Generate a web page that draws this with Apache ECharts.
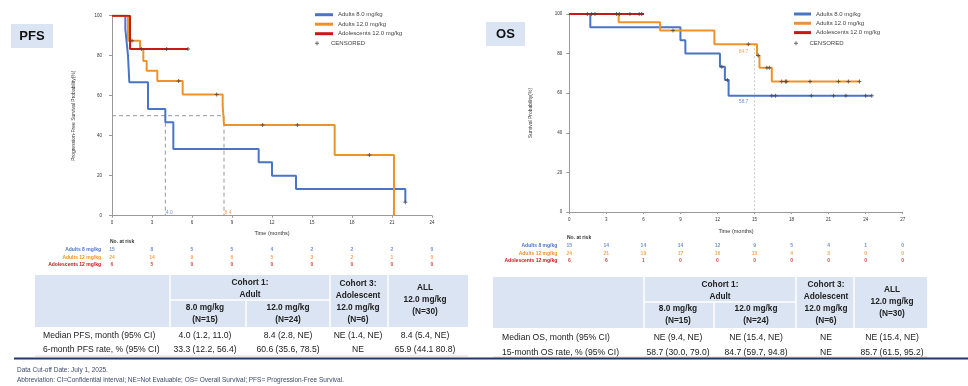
<!DOCTYPE html>
<html><head><meta charset="utf-8">
<script src="https://cdn.jsdelivr.net/npm/echarts@6/dist/echarts.min.js"></script>
<style>html,body{margin:0;padding:0;background:#fff}#c{width:968px;height:386px}</style>
</head><body><div id="c"></div>
<script>
// ---------- DATA ----------
const seriesNames = ['Adults 8.0 mg/kg', 'Adults 12.0 mg/kg', 'Adolescents 12.0 mg/kg'];
const riskRowNames = ['Adults 8 mg/kg', 'Adults 12 mg/kg', 'Adolescents 12 mg/kg'];

// PFS Kaplan-Meier curves [month, %]
const pfsAdult8 = [[0,100],[1.0,93.3],[1.1,86.7],[1.2,80],[1.3,66.7],[2.7,53.3],[4.0,46.7],[4.6,33.3],[11.0,26.7],[12.0,20.0],[13.8,13.3],[22.0,6.7]];
const pfsAdult12 = [[0,100],[1.2,87.5],[2.1,83.3],[2.35,77.4],[2.6,72.5],[3.4,67.3],[5.3,60.6],[8.3,55.1],[8.4,45.4],[16.7,30.3],[21.15,0]];
const pfsAdol12 = [[0,100],[1.35,83.3],[5.7,83.3]];
const pfsCens8 = [[22.0,6.7]];
const pfsCens12 = [[1.5,87.5],[2.2,83.3],[5.0,67.3],[7.85,60.6],[11.3,45.4],[13.9,45.4],[19.3,30.3]];
const pfsCensAdol = [[4.1,83.3],[5.7,83.3]];
const pfsMedians = [4.0, 8.4];

// OS Kaplan-Meier curves
const osAdult8 = [[0,100],[1.7,93.3],[9.0,86.7],[9.4,80],[12.2,73.3],[12.6,66.7],[12.9,58.7],[24.5,58.7]];
const osAdult12 = [[0,100],[4.0,95.8],[7.35,91.7],[11.75,84.7],[15.2,79.0],[15.4,72.9],[16.4,65.9],[23.5,65.9]];
const osAdol12 = [[0,100],[6.05,100]];
const osCens8 = [[12.35,73.3],[12.8,66.7],[16.4,58.7],[16.7,58.7],[19.6,58.7],[21.4,58.7],[22.4,58.7],[24.0,58.7],[24.5,58.7]];
const osCens12 = [[8.4,91.7],[14.5,84.7],[15.3,79.0],[16.0,72.9],[16.2,72.9],[17.2,65.9],[17.5,65.9],[17.6,65.9],[19.5,65.9],[21.8,65.9],[22.6,65.9],[23.5,65.9]];
const osCensAdol = [[1.46,100],[1.81,100],[2.08,100],[3.83,100],[4.05,100],[4.91,100],[5.66,100],[5.86,100]];
const osLandmark = 15;
const osLandmarkRates = [84.7, 58.7];

// Numbers at risk
const pfsTicks = [0,3,6,9,12,15,18,21,24];
const pfsRisk8 = [15,8,5,5,4,2,2,2,0];
const pfsRisk12 = [24,14,9,6,5,3,2,1,0];
const pfsRiskAdol = [6,5,0,0,0,0,0,0,0];
const osTicks = [0,3,6,9,12,15,18,21,24,27];
const osRisk8 = [15,14,14,14,12,9,5,4,1,0];
const osRisk12 = [24,21,19,17,16,15,4,3,0,0];
const osRiskAdol = [6,6,1,0,0,0,0,0,0,0];

// Tables
const headCohort1 = 'Cohort 1:\nAdult';
const headDose8 = '8.0 mg/kg\n(N=15)';
const headDose12 = '12.0 mg/kg\n(N=24)';
const headCohort3 = 'Cohort 3:\nAdolescent\n12.0 mg/kg\n(N=6)';
const headAll = 'ALL\n12.0 mg/kg\n(N=30)';
const pfsRows = [
  ['Median PFS, month (95% CI)', '4.0 (1.2, 11.0)', '8.4 (2.8, NE)', 'NE (1.4, NE)', '8.4 (5.4, NE)'],
  ['6-month PFS rate, % (95% CI)', '33.3 (12.2, 56.4)', '60.6 (35.6, 78.5)', 'NE', '65.9 (44.1 80.8)']
];
const osRows = [
  ['Median OS, month (95% CI)', 'NE (9.4, NE)', 'NE (15.4, NE)', 'NE', 'NE (15.4, NE)'],
  ['15-month OS rate, % (95% CI)', '58.7 (30.0, 79.0)', '84.7 (59.7, 94.8)', 'NE', '85.7 (61.5, 95.2)']
];
const footnotes = ['Data Cut-off Date: July 1, 2025.', 'Abbreviation: CI=Confidential interval; NE=Not Evaluable; OS= Overall Survival; PFS= Progression-Free Survival.'];

// ---------- STYLE ----------
const C = ['#4A74C6', '#F0922B', '#C81818'];
const CENS = '#444';
const AX = '#999';
const FONT = '"Liberation Sans", Arial, sans-serif';
const HEAD = '#DAE4F2';
const plus = 'path://M3,0H5V3H8V5H5V8H3V5H0V3H3Z';

const chart = echarts.init(document.getElementById('c'), null, {renderer: 'canvas'});

function xAx(grid, max, show, gap) {
  return {
    type: 'value', gridIndex: grid, min: 0, max: max, interval: 3, show: show,
    axisLine: {show: true, lineStyle: {color: AX, width: 1}},
    axisTick: {show: true, length: 2, lineStyle: {color: AX}},
    axisLabel: {fontSize: 4.5, color: '#333', margin: 5, fontFamily: FONT},
    splitLine: {show: false},
    name: show ? 'Time (months)' : '', nameLocation: 'middle', nameGap: gap,
    nameTextStyle: {fontSize: 5.5, color: '#333', fontFamily: FONT}
  };
}
function yAx(grid, name, gap, offset, margin) {
  return {
    type: 'value', gridIndex: grid, min: 0, max: 100, interval: 20, offset: offset,
    axisLine: {show: true, lineStyle: {color: AX, width: 1}},
    axisTick: {show: true, length: 3, lineStyle: {color: AX}},
    axisLabel: {fontSize: 4.5, color: '#333', margin: margin, fontFamily: FONT},
    splitLine: {show: false},
    name: name, nameLocation: 'middle', nameGap: gap, nameRotate: 90,
    nameTextStyle: {fontSize: 5, color: '#333', fontFamily: FONT}
  };
}
function riskX(grid, max) {
  return {type: 'value', gridIndex: grid, min: 0, max: max, interval: 3, show: false};
}
function riskY(grid, margin) {
  return {
    type: 'value', gridIndex: grid, min: 0, max: 2, interval: 1, inverse: true,
    axisLine: {show: false}, axisTick: {show: false}, splitLine: {show: false},
    axisLabel: {
      margin: margin, fontFamily: FONT,
      formatter: v => '{r' + v + '|' + riskRowNames[v] + '}',
      rich: {
        r0: {color: C[0], fontSize: 5, fontWeight: 'bold', fontFamily: FONT},
        r1: {color: C[1], fontSize: 5, fontWeight: 'bold', fontFamily: FONT},
        r2: {color: C[2], fontSize: 5, fontWeight: 'bold', fontFamily: FONT}
      }
    }
  };
}
function km(name, data, ax, color) {
  return {name: name, type: 'line', step: 'end', data: data, xAxisIndex: ax, yAxisIndex: ax,
    symbol: 'none', lineStyle: {color: color, width: 2}, itemStyle: {color: color}, silent: true, z: 3};
}
function cens(data, ax) {
  return {name: 'CENSORED', type: 'scatter', data: data, xAxisIndex: ax, yAxisIndex: ax,
    symbol: plus, symbolSize: 4, itemStyle: {color: CENS}, silent: true, z: 5};
}
function riskSeries(ticks, vals, row, ax, color) {
  return {type: 'scatter', xAxisIndex: ax, yAxisIndex: ax, symbolSize: 0, silent: true,
    data: ticks.map((t, i) => [t, row, vals[i]]),
    label: {show: true, position: 'inside', formatter: p => p.value[2], color: color, fontSize: 5, fontWeight: 'bold', fontFamily: FONT}};
}
function refLine(data, ax, color, type) {
  return {type: 'line', data: data, xAxisIndex: ax, yAxisIndex: ax, symbol: 'none', silent: true,
    lineStyle: {color: color, width: 1, type: type}, z: 2};
}
function noteLabel(data, ax, color, off) {
  return {type: 'scatter', data: data, xAxisIndex: ax, yAxisIndex: ax, symbolSize: 0, silent: true,
    label: {show: true, position: 'inside', offset: off, formatter: p => p.value[2], color: color, fontSize: 5, fontFamily: FONT}};
}

// ---------- TABLES (graphic) ----------
function buildTable(cols, yTop, ySplit, yBot, centers, rowY, rows, labelX) {
  const els = [];
  els.push({type: 'rect', shape: {x: cols[0], y: yTop, width: cols[cols.length-1] - cols[0], height: yBot - yTop}, style: {fill: HEAD}});
  for (let i = 1; i < cols.length - 1; i++) {
    els.push({type: 'line', shape: {x1: cols[i], y1: (i === 2 ? ySplit : yTop), x2: cols[i], y2: yBot}, style: {stroke: '#fff', lineWidth: 1.5}});
  }
  els.push({type: 'line', shape: {x1: cols[1], y1: ySplit, x2: cols[3], y2: ySplit}, style: {stroke: '#fff', lineWidth: 1.5}});
  const hb = 'bold 8.3px ' + FONT;
  const ht = (x, y, t) => ({type: 'text', x: x, y: y, style: {text: t, font: hb, fill: '#222', align: 'center', verticalAlign: 'middle', lineHeight: 12}});
  els.push(ht((cols[1] + cols[3]) / 2, (yTop + ySplit) / 2 + 1, headCohort1));
  els.push(ht(centers[0], (ySplit + yBot) / 2, headDose8));
  els.push(ht(centers[1], (ySplit + yBot) / 2, headDose12));
  els.push(ht(centers[2], (yTop + yBot) / 2 + 0.5, headCohort3));
  els.push(ht(centers[3], (yTop + yBot) / 2 - 1, headAll));
  rows.forEach((r, ri) => {
    els.push({type: 'text', x: labelX, y: rowY[ri], style: {text: r[0], font: '8.6px ' + FONT, fill: '#222', align: 'left', verticalAlign: 'middle'}});
    for (let k = 1; k < 5; k++) {
      els.push({type: 'text', x: centers[k-1], y: rowY[ri], style: {text: r[k], font: '8.6px ' + FONT, fill: '#222', align: 'center', verticalAlign: 'middle'}});
    }
  });
  els.push({type: 'line', shape: {x1: cols[0], y1: yBot + 29, x2: cols[cols.length-1], y2: yBot + 29}, style: {stroke: '#E6CFCF', lineWidth: 1}});
  return els;
}

const graphics = [];
// PFS / OS tag boxes
graphics.push({type: 'rect', shape: {x: 11, y: 24, width: 42, height: 24}, style: {fill: HEAD}});
graphics.push({type: 'text', x: 32, y: 36.5, style: {text: 'PFS', font: 'bold 13px ' + FONT, fill: '#111', align: 'center', verticalAlign: 'middle'}});
graphics.push({type: 'rect', shape: {x: 486, y: 22, width: 39, height: 24}, style: {fill: HEAD}});
graphics.push({type: 'text', x: 505.5, y: 34.5, style: {text: 'OS', font: 'bold 13px ' + FONT, fill: '#111', align: 'center', verticalAlign: 'middle'}});
// No. at risk
graphics.push({type: 'text', x: 110, y: 241.7, style: {text: 'No. at risk', font: 'bold 5px ' + FONT, fill: '#333', align: 'left', verticalAlign: 'middle'}});
graphics.push({type: 'text', x: 567, y: 237.3, style: {text: 'No. at risk', font: 'bold 5px ' + FONT, fill: '#333', align: 'left', verticalAlign: 'middle'}});
// tables
buildTable([35, 170, 246, 330, 388, 468], 275, 300, 327, [205, 288, 358, 425], [336, 349.5], pfsRows, 43).forEach(e => graphics.push(e));
buildTable([493, 644, 714, 796, 854, 927], 277, 302, 328, [678, 756, 826, 892], [337.7, 352.7], osRows, 502).forEach(e => graphics.push(e));
// bottom rule + footnotes
graphics.push({type: 'line', shape: {x1: 14, y1: 358.5, x2: 968, y2: 358.5}, style: {stroke: '#1F3864', lineWidth: 2}});
graphics.push({type: 'text', x: 17, y: 370.5, style: {text: footnotes[0], font: '6.5px ' + FONT, fill: '#3B4A6B', align: 'left', verticalAlign: 'middle'}});
graphics.push({type: 'text', x: 17, y: 380, style: {text: footnotes[1], font: '6.5px ' + FONT, fill: '#3B4A6B', align: 'left', verticalAlign: 'middle'}});

const legendText = {fontSize: 6, color: '#444', fontFamily: FONT, lineHeight: 7};

const option = {
  backgroundColor: '#fff',
  animation: false,
  grid: [
    {left: 112, top: 15.7, width: 320, height: 200, outerBoundsMode: 'none'},
    {left: 569.3, top: 14, width: 333.4, height: 198, outerBoundsMode: 'none'},
    {left: 112, top: 250, width: 320, height: 15, outerBoundsMode: 'none'},
    {left: 569.3, top: 246, width: 333.4, height: 15, outerBoundsMode: 'none'}
  ],
  xAxis: [xAx(0, 24, true, 15), xAx(1, 27, true, 16), riskX(2, 24), riskX(3, 27)],
  yAxis: [yAx(0, 'Progression-Free Survival Probability(%)', 34, 2, 8), yAx(1, 'Survival Probability(%)', 36, 0, 7), riskY(2, 11), riskY(3, 12)],
  legend: [
    {left: 315, top: 11.2, padding: 0, orient: 'vertical', itemWidth: 18, itemHeight: 3, itemGap: 2.5, textStyle: legendText, selectedMode: false,
      data: seriesNames.map(n => ({name: n, icon: 'rect'}))},
    {left: 315, top: 39.8, padding: 0, orient: 'vertical', itemWidth: 18, itemHeight: 4, textStyle: legendText, selectedMode: false,
      data: [{name: 'CENSORED', icon: plus}], itemStyle: {color: CENS}},
    {left: 794, top: 10.5, padding: 0, orient: 'vertical', itemWidth: 17, itemHeight: 3, itemGap: 2.3, textStyle: legendText, selectedMode: false,
      data: seriesNames.map(n => ({name: n, icon: 'rect'}))},
    {left: 794, top: 39.8, padding: 0, orient: 'vertical', itemWidth: 17, itemHeight: 4, textStyle: legendText, selectedMode: false,
      data: [{name: 'CENSORED', icon: plus}], itemStyle: {color: CENS}}
  ],
  graphic: graphics,
  series: [
    // PFS reference lines
    refLine([[0,50],[pfsMedians[1],50]], 0, '#999', [4,3]),
    refLine([[pfsMedians[0],50],[pfsMedians[0],0]], 0, '#999', [4,3]),
    refLine([[pfsMedians[1],50],[pfsMedians[1],0]], 0, '#999', [4,3]),
    km(seriesNames[0], pfsAdult8, 0, C[0]),
    km(seriesNames[1], pfsAdult12, 0, C[1]),
    km(seriesNames[2], pfsAdol12, 0, C[2]),
    cens(pfsCens8, 0), cens(pfsCens12, 0), cens(pfsCensAdol, 0),
    noteLabel([[pfsMedians[0], 0, pfsMedians[0].toFixed(1)]], 0, C[0], [4, -3]),
    noteLabel([[pfsMedians[1], 0, pfsMedians[1].toFixed(1)]], 0, C[1], [4, -3]),
    // OS
    refLine([[osLandmark, osLandmarkRates[0]],[osLandmark, 0]], 1, '#C8C8C8', [2,2]),
    km(seriesNames[0], osAdult8, 1, C[0]),
    km(seriesNames[1], osAdult12, 1, C[1]),
    km(seriesNames[2], osAdol12, 1, C[2]),
    cens(osCens8, 1), cens(osCens12, 1), cens(osCensAdol, 1),
    noteLabel([[osLandmark, osLandmarkRates[0], osLandmarkRates[0].toFixed(1)]], 1, C[1], [-11, 7]),
    noteLabel([[osLandmark, osLandmarkRates[1], osLandmarkRates[1].toFixed(1)]], 1, C[0], [-11, 6]),
    // risk tables
    riskSeries(pfsTicks, pfsRisk8, 0, 2, C[0]),
    riskSeries(pfsTicks, pfsRisk12, 1, 2, C[1]),
    riskSeries(pfsTicks, pfsRiskAdol, 2, 2, C[2]),
    riskSeries(osTicks, osRisk8, 0, 3, C[0]),
    riskSeries(osTicks, osRisk12, 1, 3, C[1]),
    riskSeries(osTicks, osRiskAdol, 2, 3, C[2])
  ]
};
chart.setOption(option);
</script>
</body></html>
